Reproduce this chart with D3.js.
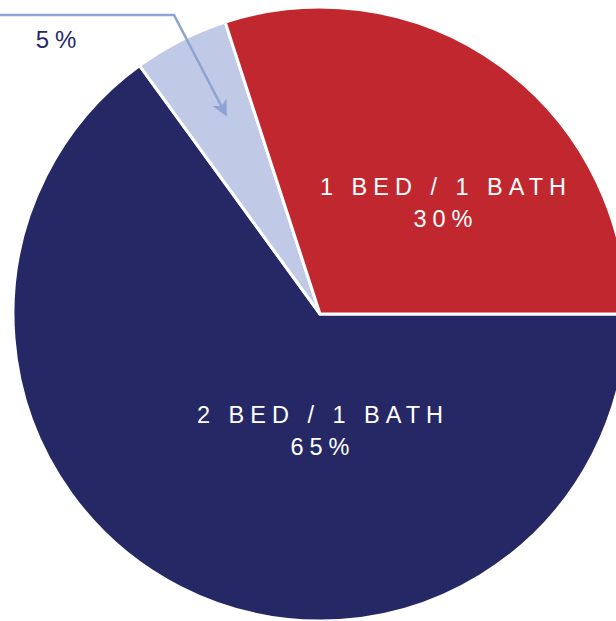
<!DOCTYPE html>
<html>
<head>
<meta charset="utf-8">
<script src="https://cdn.jsdelivr.net/npm/d3@7"></script>
<style>
  body { margin: 0; background: #fff; }
  svg { display: block; font-family: "Liberation Sans", Arial, sans-serif; }
</style>
</head>
<body>
<svg id="chart" width="616" height="621"></svg>
<script>
// slice data, clockwise from 3 o'clock
var labels = ["2 BED / 1 BATH", "", "1 BED / 1 BATH"];
var values = [65, 5, 30];
var colors = ["#252864", "#c0cae6", "#c1272f"];

var svg = d3.select("#chart");
var cx = 320, cy = 314, r = 307;

var pie = d3.pie().sort(null)
  .startAngle(Math.PI / 2)
  .endAngle(Math.PI / 2 + 2 * Math.PI);

var arc = d3.arc().innerRadius(0).outerRadius(r);

var g = svg.append("g").attr("transform", "translate(" + cx + "," + cy + ")");

var arcs = pie(values);

g.selectAll("path").data(arcs).enter().append("path")
  .attr("d", arc)
  .attr("fill", function (d, i) { return colors[i]; })
  .attr("stroke", "#fff")
  .attr("stroke-width", 3)
  .attr("stroke-linejoin", "miter");

// inside labels
var labelPos = [[3, 109], null, [126, -119]];
arcs.forEach(function (d, i) {
  if (!labels[i]) return;
  var t = g.append("text")
    .attr("text-anchor", "middle")
    .attr("fill", "#fff")
    .style("font-size", "23.5px")
    .style("letter-spacing", "6px");
  t.append("tspan").attr("x", labelPos[i][0]).attr("y", labelPos[i][1]).text(labels[i]);
  t.append("tspan").attr("x", labelPos[i][0]).attr("y", labelPos[i][1] + 32).text(values[i] + "%");
});

// callout for the small slice
svg.append("defs").append("marker")
  .attr("id", "arrow")
  .attr("viewBox", "0 0 10 10")
  .attr("refX", 9).attr("refY", 5)
  .attr("markerWidth", 6.5).attr("markerHeight", 6.5)
  .attr("orient", "auto")
  .append("path").attr("d", "M0,0 L10,5 L0,10 L3,5 Z").attr("fill", "#8da3d4");

svg.append("polyline")
  .attr("points", "0,15 174,15 226,115")
  .attr("fill", "none")
  .attr("stroke", "#8da3d4")
  .attr("stroke-width", 2.5)
  .attr("marker-end", "url(#arrow)");

svg.append("text")
  .attr("x", 59).attr("y", 48)
  .attr("text-anchor", "middle")
  .attr("fill", "#262a66")
  .style("font-size", "24px")
  .style("letter-spacing", "6px")
  .text(values[1] + "%");
</script>
</body>
</html>
